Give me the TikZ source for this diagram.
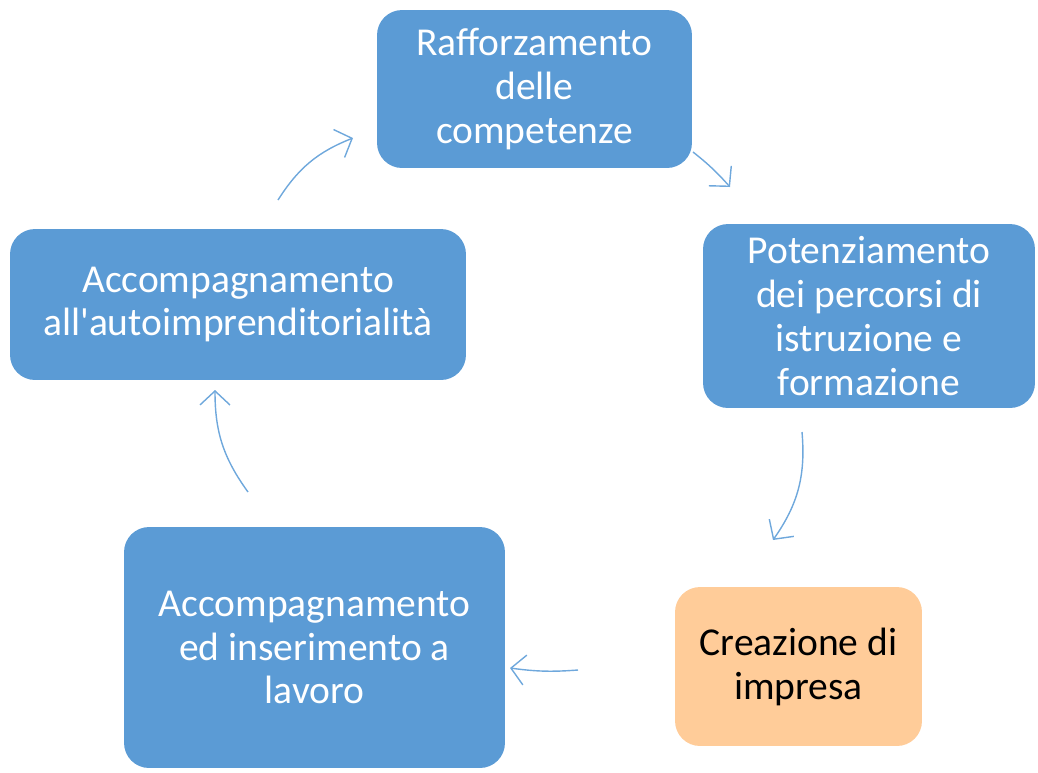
\documentclass[tikz,border=0pt]{standalone}
\usepackage{fontspec}
\setmainfont{Carlito}
\usetikzlibrary{arrows.meta}
\definecolor{bluebox}{HTML}{5B9BD5}
\definecolor{orangebox}{HTML}{FFCC99}
\definecolor{bluearrow}{HTML}{6FA8DC}
\tikzstyle{fase} = [rectangle, rounded corners=0.5cm, inner sep=0pt, align=center, text centered, draw=none, fill=bluebox, text=white, font=\fontsize{22.5}{25}\selectfont]
\tikzstyle{impresa} = [fase, fill=orangebox, text=black]
\tikzstyle{arrow} = [line width=0.8pt, draw=bluearrow, -{Straight Barb[length=2.8mm,width=6mm]}]

\begin{document}
\begin{tikzpicture}[x=0.02cm, y=-0.02cm]
\useasboundingbox (0,0) rectangle (1038,772);

% Nodi
\node (rafforzamento) [fase, minimum width=6.3cm, minimum height=3.16cm] at (534.5,89) {Rafforzamento\\delle\\competenze};
\node (potenziamento) [fase, minimum width=6.64cm, minimum height=3.68cm] at (869,316) {Potenziamento\\dei percorsi di\\istruzione e\\formazione};
\node (creazione) [impresa, minimum width=4.94cm, minimum height=3.18cm] at (798.5,666.5) {Creazione di\\impresa};
\node (inserimento) [fase, minimum width=7.62cm, minimum height=4.82cm] at (314.5,647.5) {Accompagnamento\\ed inserimento a\\lavoro};
\node (autoimpr) [fase, minimum width=9.12cm, minimum height=3.02cm] at (238,304.5) {Accompagnamento\\{\addfontfeatures{Ligatures=TeXOff}all'autoimprenditorialità}};

% Estremi delle frecce
\coordinate (a1) at (693,152);
\coordinate (b1) at (730,187);
\coordinate (a2) at (802,432);
\coordinate (b2) at (773,540);
\coordinate (a3) at (578,670);
\coordinate (b3) at (510,668);
\coordinate (a4) at (248,492);
\coordinate (b4) at (215,390);
\coordinate (a5) at (278,200);
\coordinate (b5) at (353,138);

% Connessioni
\draw [arrow] (a1) to[bend left=5] (b1);
\draw [arrow] (a2) to[bend left=20] (b2);
\draw [arrow] (a3) to[bend left=6] (b3);
\draw [arrow] (a4) to[bend left=18] (b4);
\draw [arrow] (a5) to[bend left=18] (b5);

\end{tikzpicture}
\end{document}
